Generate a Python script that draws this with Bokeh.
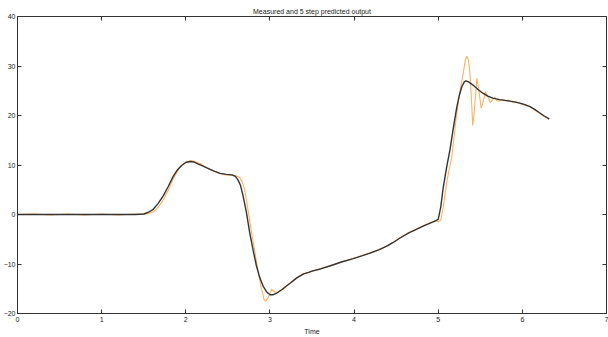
from bokeh.plotting import figure
from bokeh.models import LinearAxis, Range1d, FixedTicker, CustomJSTickFormatter
from bokeh.embed import file_html
from bokeh.resources import INLINE

title_text = "Measured and 5 step predicted output"
x_label = "Time"
x_ticks = [0, 1, 2, 3, 4, 5, 6, 7]
y_ticks = [-20, -10, 0, 10, 20, 30, 40]

# model (5-step predicted) output
pred_t = [0.0, 0.5, 1.0, 1.4, 1.5, 1.55, 1.61, 1.67, 1.73, 1.79, 1.85, 1.90, 1.95, 2.00, 2.05,
          2.10, 2.15, 2.20, 2.25, 2.33, 2.41, 2.48, 2.55, 2.59, 2.62, 2.65, 2.68, 2.72, 2.76,
          2.80, 2.84, 2.88, 2.92, 2.96, 3.00, 3.04, 3.08, 3.14, 3.20, 3.24, 3.32, 3.40, 3.46, 3.51,
          3.60, 3.71, 3.85, 3.99, 4.10, 4.19, 4.30, 4.40, 4.46, 4.55, 4.65, 4.74, 4.84, 4.94,
          5.00, 5.03, 5.06, 5.10, 5.14, 5.18, 5.22, 5.25, 5.28, 5.31, 5.33, 5.36, 5.41, 5.47,
          5.53, 5.59, 5.65, 5.73, 5.81, 5.89, 5.97, 6.03, 6.09, 6.15, 6.20, 6.26, 6.32]
pred_y = [0, 0, 0, 0, 0.1, 0.4, 1.0, 2.2, 3.7, 5.6, 7.7, 9.0, 9.9, 10.5, 10.7,
          10.6, 10.2, 9.8, 9.4, 8.8, 8.3, 8.1, 8.0, 7.7, 7.0, 5.9, 3.8, 0.5, -3.7,
          -7.2, -10.4, -12.8, -14.5, -15.6, -16.2, -16.2, -15.9, -15.2, -14.4, -13.9, -12.8, -12.0, -11.7, -11.4,
          -11.0, -10.4, -9.6, -8.9, -8.3, -7.8, -7.1, -6.3, -5.7, -4.7, -3.7, -3.0, -2.2, -1.5,
          -1.0, 1.5, 5.5, 9.5, 13.1, 17.5, 21.6, 24.0, 25.8, 26.8, 27.0, 26.8, 26.2, 25.3,
          24.5, 23.9, 23.5, 23.2, 23.0, 22.8, 22.5, 22.2, 21.8, 21.2, 20.6, 19.9, 19.3]

# measured output
meas_t = [0.0, 0.2, 0.4, 0.6, 0.8, 1.0, 1.2, 1.4, 1.5, 1.56, 1.62, 1.68, 1.74, 1.80, 1.86,
          1.92, 1.97, 2.02, 2.07, 2.12, 2.17, 2.22, 2.30, 2.40, 2.48, 2.55, 2.60, 2.64, 2.67,
          2.70, 2.73, 2.77, 2.81, 2.84, 2.87, 2.90, 2.93, 2.95, 2.98, 3.02, 3.06, 3.10, 3.16,
          3.22, 3.30, 3.38, 3.46, 3.55, 3.65, 3.75, 3.85, 3.95, 4.05, 4.15, 4.25, 4.35, 4.45,
          4.55, 4.65, 4.75, 4.85, 4.95, 5.00, 5.03, 5.06, 5.10, 5.14, 5.16, 5.18, 5.21, 5.24,
          5.27, 5.30, 5.32, 5.34, 5.36, 5.38, 5.40, 5.41, 5.43, 5.46, 5.48, 5.51, 5.53, 5.56,
          5.59, 5.62, 5.65, 5.67, 5.70, 5.73, 5.76, 5.80, 5.84, 5.88, 5.92, 5.97, 6.03, 6.09,
          6.15, 6.20, 6.26, 6.32]
meas_y = [0, 0.1, -0.1, 0.1, -0.1, 0.1, -0.1, 0.1, 0, 0.2, 0.6, 1.6, 3.2, 5.2, 7.5,
          9.3, 10.2, 10.7, 10.9, 10.6, 10.3, 9.7, 9.0, 8.3, 8.0, 7.9, 7.8, 7.5, 6.6,
          5.0, 2.0, -2.5, -6.5, -9.5, -12.5, -15.0, -17.2, -17.5, -16.8, -15.1, -15.7, -15.6, -15.0,
          -14.1, -13.0, -12.1, -11.7, -11.2, -10.7, -10.2, -9.6, -9.1, -8.6, -8.0, -7.4, -6.7, -5.8,
          -4.7, -3.7, -2.9, -2.1, -1.3, -1.4, -1.2, 1.5, 6.4, 10.0, 11.4, 14.5, 19.0, 22.8,
          26.0, 28.8, 31.0, 32.0, 31.2, 28.0, 21.5, 18.0, 21.0, 27.5, 25.5, 21.5, 22.5, 24.8,
          23.8, 22.6, 23.2, 23.7, 23.0, 22.9, 23.3, 23.0, 23.1, 22.7, 22.8, 22.4, 22.1, 21.8,
          21.1, 20.5, 19.8, 19.2]

FONT = "Liberation Sans"

p = figure(width=608, height=337, output_backend="svg", toolbar_location=None,
           x_range=Range1d(0, 7), y_range=Range1d(-20, 40),
           min_border_left=17, min_border_right=2, min_border_top=16, min_border_bottom=23)
p.background_fill_color = "white"
p.border_fill_color = "white"
p.outline_line_color = "#333333"
p.outline_line_width = 1
p.xgrid.visible = False
p.ygrid.visible = False

p.title.text = title_text
p.title.align = "center"
p.title.text_font = FONT
p.title.text_font_size = "7px"
p.title.text_font_style = "normal"
p.title.text_color = "#222222"
p.title.standoff = 4
p.title.offset = 0

def style_axis(ax):
    ax.axis_line_color = "#333333"
    ax.major_tick_line_color = "#333333"
    ax.major_tick_in = 4
    ax.major_tick_out = 0
    ax.minor_tick_line_color = None
    ax.major_label_text_font = FONT
    ax.major_label_text_font_size = "7px"
    ax.major_label_text_color = "#222222"
    ax.major_label_standoff = 3

p.xaxis.ticker = FixedTicker(ticks=x_ticks)
p.yaxis.ticker = FixedTicker(ticks=y_ticks)
style_axis(p.xaxis[0])
style_axis(p.yaxis[0])
p.yaxis.major_label_standoff = 2
p.xaxis.axis_label = x_label
p.xaxis.axis_label_text_font = FONT
p.xaxis.axis_label_text_font_size = "7px"
p.xaxis.axis_label_text_font_style = "normal"
p.xaxis.axis_label_text_color = "#222222"
p.xaxis.axis_label_standoff = 3

blank = CustomJSTickFormatter(code="return '';")
top = LinearAxis(ticker=FixedTicker(ticks=x_ticks), formatter=blank)
style_axis(top)
top.major_label_standoff = 0
p.add_layout(top, "above")
right = LinearAxis(ticker=FixedTicker(ticks=y_ticks), formatter=blank)
style_axis(right)
right.major_label_standoff = 0
p.add_layout(right, "right")

p.line(meas_t, meas_y, line_color="#FFA850", line_width=1.1, line_alpha=0.9)
p.line(pred_t, pred_y, line_color="#333333", line_width=1.4)

open("out.html", "w").write(file_html(p, INLINE))
